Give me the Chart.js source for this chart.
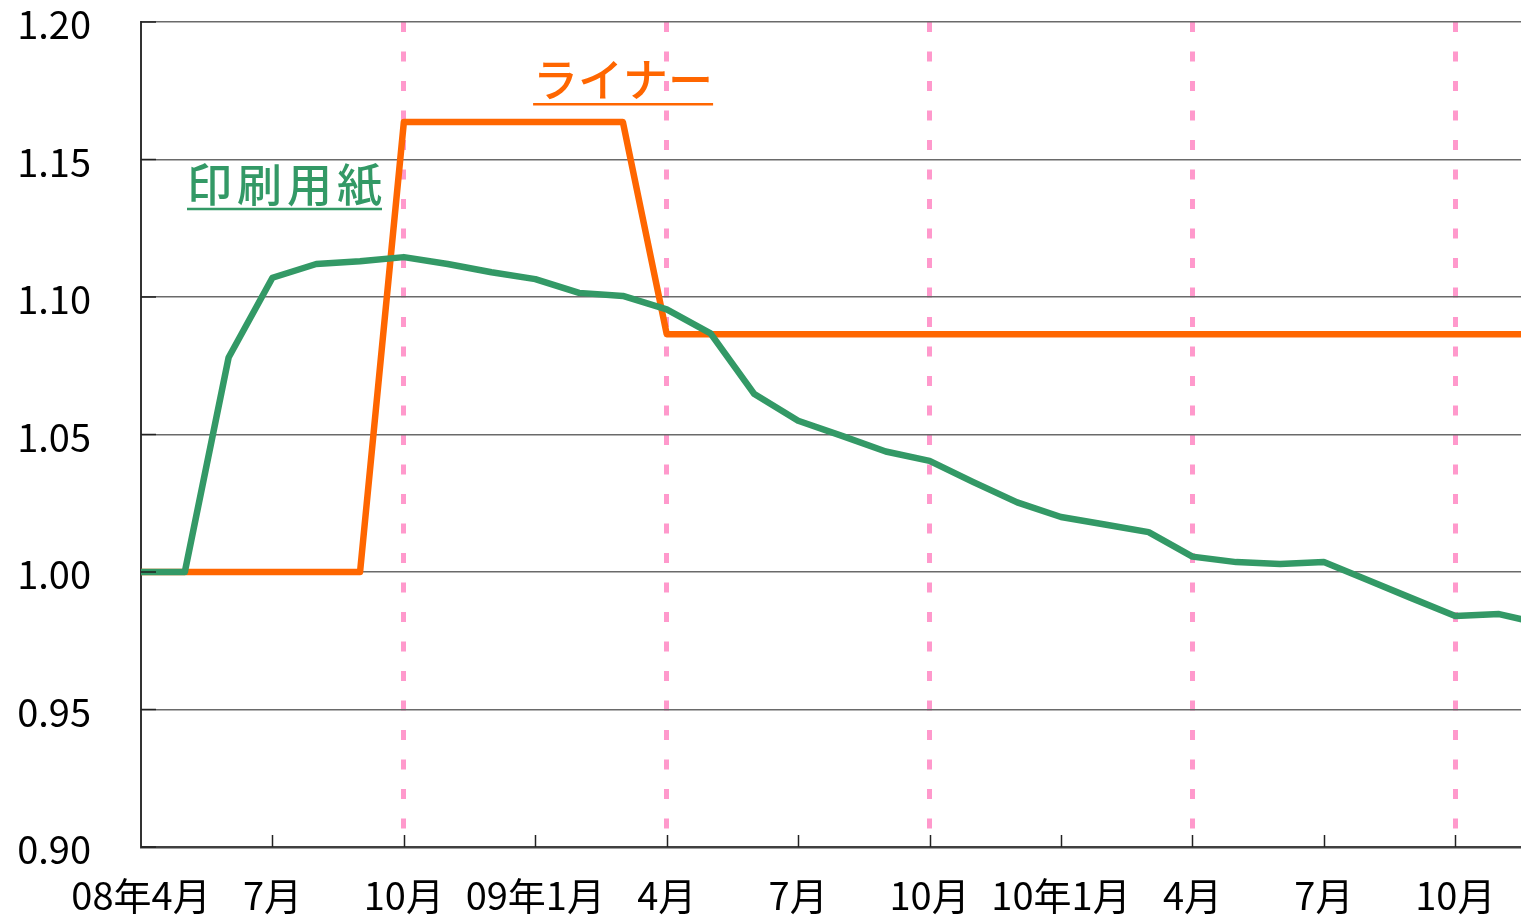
<!DOCTYPE html>
<html lang="ja">
<head>
<meta charset="utf-8">
<title>ライナー・印刷用紙</title>
<script src="https://cdn.jsdelivr.net/npm/chart.js@4.4.1/dist/chart.umd.min.js"></script>
<style>
  html, body { margin: 0; padding: 0; background: #fff; }
  #wrap { width: 1521px; height: 918px; position: relative; }
</style>
</head>
<body>
<div id="wrap"><canvas id="grafico"></canvas></div>
<script>
// 月のインデックス（0 = 08年4月）
const months = [
  0, 1, 2, 3, 4, 5, 6, 7, 8, 9, 10, 11, 12, 13, 14, 15, 16,
  17, 18, 19, 20, 21, 22, 23, 24, 25, 26, 27, 28, 29, 30, 31, 32
];

// 印刷用紙（緑）
const insatsuYoshi = [
  1.000, 1.000, 1.078, 1.107, 1.112, 1.113, 1.1145, 1.112, 1.109, 1.1065,
  1.1015, 1.1004, 1.0955, 1.0868, 1.0647, 1.055, 1.0495, 1.0438, 1.0404,
  1.0327, 1.0253, 1.020, 1.0173, 1.0145, 1.0056, 1.0036, 1.0029, 1.0036,
  0.9971, 0.9905, 0.984, 0.9847, 0.981
];

// ライナー（オレンジ）
const liner = [
  1.000, 1.000, 1.000, 1.000, 1.000, 1.000, 1.1636, 1.1636, 1.1636, 1.1636,
  1.1636, 1.1636, 1.0865, 1.0865, 1.0865, 1.0865, 1.0865, 1.0865, 1.0865,
  1.0865, 1.0865, 1.0865, 1.0865, 1.0865, 1.0865, 1.0865, 1.0865, 1.0865,
  1.0865, 1.0865, 1.0865, 1.0865, 1.0865
];

// 軸の目盛り
const xTickValues = [0, 3, 6, 9, 12, 15, 18, 21, 24, 27, 30];
const xTickLabels = ['08年4月', '7月', '10月', '09年1月', '4月', '7月', '10月', '10年1月', '4月', '7月', '10月'];
const yTickValues = [0.90, 0.95, 1.00, 1.05, 1.10, 1.15, 1.20];

// 系列名ラベル（データ座標で配置）
const seriesLabels = [
  { text: 'ライナー', x: 8.95, y: 1.1705, color: '#ff6600', spacing: 0 },
  { text: '印刷用紙', x: 1.05, y: 1.1324, color: '#339966', spacing: 5 }
];

const FONT = '"Noto Sans CJK JP", "Noto Sans", sans-serif';
Chart.defaults.font.family = FONT;
Chart.defaults.color = '#000';

const toPoints = arr => arr.map((v, i) => ({ x: months[i], y: v }));

// 内向きの目盛りと系列名を描くプラグイン
const extras = {
  id: 'extras',
  afterDraw(chart) {
    const { ctx, chartArea } = chart;
    const xs = chart.scales.x;
    const ys = chart.scales.y;
    ctx.save();
    ctx.strokeStyle = '#222';
    ctx.lineWidth = 1.5;
    xTickValues.forEach(v => {
      if (v === 0) return;
      const px = Math.round(xs.getPixelForValue(v)) + 0.5;
      ctx.beginPath();
      ctx.moveTo(px, chartArea.bottom);
      ctx.lineTo(px, chartArea.bottom - 12);
      ctx.stroke();
    });
    yTickValues.forEach(v => {
      const py = ys.getPixelForValue(v);
      ctx.beginPath();
      ctx.moveTo(chartArea.left, py);
      ctx.lineTo(chartArea.left + 15, py);
      ctx.stroke();
    });

    seriesLabels.forEach(l => {
      const px = xs.getPixelForValue(l.x);
      const py = ys.getPixelForValue(l.y);
      ctx.font = '500 45px ' + FONT;
      ctx.letterSpacing = l.spacing + 'px';
      ctx.fillStyle = l.color;
      ctx.textAlign = 'left';
      ctx.textBaseline = 'ideographic';
      ctx.fillText(l.text, px, py - 1);
      const w = ctx.measureText(l.text).width - l.spacing;
      ctx.strokeStyle = l.color;
      ctx.lineWidth = 2.5;
      ctx.beginPath();
      ctx.moveTo(px, py + 1);
      ctx.lineTo(px + w, py + 1);
      ctx.stroke();
    });
    ctx.restore();
  }
};

new Chart(document.getElementById('grafico'), {
  type: 'line',
  data: {
    datasets: [
      {
        label: '印刷用紙',
        data: toPoints(insatsuYoshi),
        borderColor: '#339966',
        borderWidth: 6.5,
        pointRadius: 0,
        tension: 0,
        borderJoinStyle: 'round',
        order: 1
      },
      {
        label: 'ライナー',
        data: toPoints(liner),
        borderColor: '#ff6600',
        borderWidth: 6.5,
        pointRadius: 0,
        tension: 0,
        borderJoinStyle: 'round',
        order: 2
      }
    ]
  },
  options: {
    responsive: true,
    maintainAspectRatio: false,
    animation: false,
    layout: { padding: { top: 22, right: 0, bottom: 0, left: 0 } },
    plugins: {
      legend: { display: false },
      tooltip: { enabled: false }
    },
    scales: {
      x: {
        type: 'linear',
        min: 0,
        max: 31.5,
        afterFit(scale) {
          scale.height = 71;
          scale.paddingLeft = 0;
          scale.paddingRight = 0;
        },
        afterBuildTicks(scale) { scale.ticks = xTickValues.map(v => ({ value: v })); },
        ticks: {
          autoSkip: false,
          maxRotation: 0,
          padding: 26,
          font: { size: 38 },
          callback: value => xTickLabels[xTickValues.indexOf(value)]
        },
        grid: {
          drawTicks: false,
          lineWidth: 5,
          color: c => (c.tick && c.tick.value > 0 && c.tick.value % 6 === 0) ? '#ff99cc' : 'rgba(0,0,0,0)'
        },
        border: { color: '#404040', width: 2.5, dash: [10, 19.5] }
      },
      y: {
        min: 0.90,
        max: 1.20,
        afterFit(scale) {
          scale.width = 141;
          scale.paddingTop = 0;
          scale.paddingBottom = 0;
        },
        afterBuildTicks(scale) { scale.ticks = yTickValues.map(v => ({ value: v })); },
        ticks: {
          padding: 50,
          labelOffset: 3,
          font: { size: 38 },
          callback: value => value.toFixed(2)
        },
        grid: {
          drawTicks: false,
          lineWidth: 1.5,
          color: '#6a6a6a'
        },
        border: { color: '#333', width: 2 }
      }
    }
  },
  plugins: [extras]
});
</script>
</body>
</html>
